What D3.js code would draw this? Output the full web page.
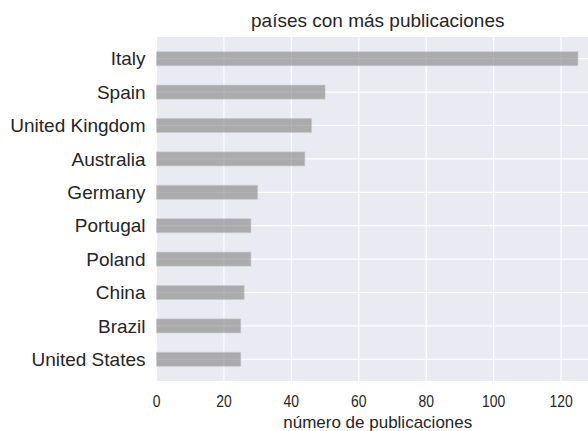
<!DOCTYPE html>
<html>
<head>
<meta charset="utf-8">
<script src="https://cdn.jsdelivr.net/npm/d3@7"></script>
<style>
  body { margin: 0; background: #fff; }
  text { font-family: "Liberation Sans", Arial, sans-serif; fill: #262626; }
</style>
</head>
<body>
<div id="chart"></div>
<script>
// countries, top to bottom
var countries = ['Italy', 'Spain', 'United Kingdom', 'Australia', 'Germany',
                 'Portugal', 'Poland', 'China', 'Brazil', 'United States'];
// number of publications per country
var publications = [125, 50, 46, 44, 30, 28, 28, 26, 25, 25];
var xTicks = [0, 20, 40, 60, 80, 100, 120];

var width = 588, height = 431;
var plot = {left: 156.5, right: 599, top: 37, bottom: 381};

var svg = d3.select('#chart').append('svg')
  .attr('width', width)
  .attr('height', height);

// x max gets matplotlib's default 5% margin
var x = d3.scaleLinear()
  .domain([0, d3.max(publications) * 1.05])
  .range([plot.left, plot.right]);

var y = d3.scalePoint()
  .domain(countries)
  .range([plot.top, plot.bottom])
  .padding(0.65);

var barH = 14;

// background
svg.append('rect')
  .attr('x', plot.left).attr('y', plot.top)
  .attr('width', plot.right - plot.left)
  .attr('height', plot.bottom - plot.top)
  .attr('fill', '#eaeaf2');

// vertical grid
svg.selectAll('.vgrid').data(xTicks).enter().append('line')
  .attr('x1', function(d) { return x(d); })
  .attr('x2', function(d) { return x(d); })
  .attr('y1', plot.top).attr('y2', plot.bottom)
  .attr('stroke', '#fff').attr('stroke-width', 1.2);

// horizontal grid at each category
svg.selectAll('.hgrid').data(countries).enter().append('line')
  .attr('x1', plot.left).attr('x2', plot.right)
  .attr('y1', function(d) { return y(d); })
  .attr('y2', function(d) { return y(d); })
  .attr('stroke', '#fff').attr('stroke-width', 1.2);

// bars (semi transparent so the grid shows through)
svg.selectAll('.bar').data(countries).enter().append('rect')
  .attr('x', x(0))
  .attr('y', function(d) { return y(d) - barH / 2; })
  .attr('width', function(d, i) { return x(publications[i]) - x(0); })
  .attr('height', barH)
  .attr('fill', '#808080')
  .attr('fill-opacity', 0.6)
  .attr('stroke', '#c8c8cc')
  .attr('stroke-opacity', 0.6)
  .attr('stroke-width', 1);

// y labels
svg.selectAll('.ylab').data(countries).enter().append('text')
  .attr('x', plot.left - 11)
  .attr('y', function(d) { return y(d); })
  .attr('dy', '0.35em')
  .attr('text-anchor', 'end')
  .style('font-size', '19px')
  .text(function(d) { return d; });

// x tick labels, squeezed a bit like the narrow font in the original
svg.selectAll('.xlab').data(xTicks).enter().append('text')
  .attr('transform', function(d) {
    return 'translate(' + x(d) + ',' + (plot.bottom + 20) + ') scale(0.82,1)';
  })
  .attr('dy', '0.35em')
  .attr('text-anchor', 'middle')
  .style('font-size', '17px')
  .text(function(d) { return d; });

// axis label
svg.append('text')
  .attr('x', (plot.left + plot.right) / 2)
  .attr('y', plot.bottom + 41)
  .attr('dy', '0.35em')
  .attr('text-anchor', 'middle')
  .style('font-size', '17px')
  .text('número de publicaciones');

// title
svg.append('text')
  .attr('x', (plot.left + plot.right) / 2)
  .attr('y', plot.top - 17)
  .attr('dy', '0.35em')
  .attr('text-anchor', 'middle')
  .style('font-size', '19px')
  .text('países con más publicaciones');
</script>
</body>
</html>
